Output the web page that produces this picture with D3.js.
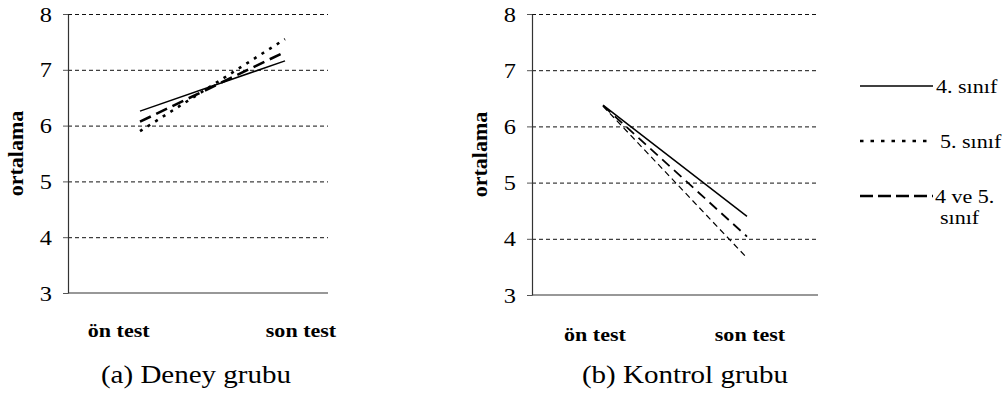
<!DOCTYPE html>
<html>
<head>
<meta charset="utf-8">
<script src="https://cdn.jsdelivr.net/npm/d3@7"></script>
<style>
  body { margin: 0; background: #fff; }
</style>
</head>
<body>
<div id="container"></div>
<script>
const tests = ['ön test', 'son test'];
const groups = ['4. sınıf', '5. sınıf', '4 ve 5. sınıf'];
const yTicks = [3, 4, 5, 6, 7, 8];

const deney4 = [6.26, 7.16];
const deney5 = [5.90, 7.55];
const deney45 = [6.07, 7.32];

const kontrol4 = [6.38, 4.40];
const kontrol5 = [6.36, 3.66];
const kontrol45 = [6.37, 4.04];

const titles = ['(a) Deney grubu', '(b) Kontrol grubu'];

// find a Times-like font that is really installed
const pickFont = (cands) => {
    const ctx = document.createElement('canvas').getContext('2d');
    const w = (f) => { ctx.font = '40px ' + f; return ctx.measureText('ortalama ön test 8').width; };
    const mono = w('monospace');
    for (const f of cands) {
        if (Math.abs(w(`"${f}", monospace`) - mono) > 0.5) return `"${f}"`;
    }
    return 'serif';
};
const serif = pickFont(['Liberation Serif', 'Times New Roman', 'Times', 'DejaVu Serif']);

// original picture is a bit wider than plain Times, so stretch text horizontally
const stretchK = 1.16;
const stretch = (sel) => sel.each(function () {
    const w = this.getComputedTextLength();
    this.setAttribute('textLength', w * stretchK);
    this.setAttribute('lengthAdjust', 'spacingAndGlyphs');
});

const styles = [
    { dash: null, width: 1.5 },
    { dash: '3.5,7', width: 2.6 },
    { dash: '13,5', width: 2.6 }
];

const svg = d3.select('#container')
    .append('svg')
    .attr('width', 1005)
    .attr('height', 408)
    .attr('font-family', serif);

const drawPanel = (p) => {
    const y = d3.scaleLinear().domain([3, 8]).range([p.bottom, 14]);
    const xLine = d3.scalePoint().domain(tests).range(p.lineRange);
    const xLabel = d3.scalePoint().domain(tests).range(p.labelRange);
    const g = svg.append('g');

    // dashed gridlines
    g.append('g')
        .attr('transform', `translate(${p.left}, 0)`)
        .call(d3.axisLeft(y).tickValues(yTicks.slice(1)).tickSize(-(p.right - p.left)).tickFormat(''))
        .call(a => a.select('.domain').remove())
        .call(a => a.selectAll('line').attr('stroke', '#111').attr('stroke-dasharray', '4,3'));

    // y axis with ticks
    const ya = g.append('g')
        .attr('transform', `translate(${p.left}, 0)`)
        .call(d3.axisLeft(y).tickValues(yTicks).tickFormat(d3.format('d'))
            .tickSize(5).tickPadding(11).tickSizeOuter(0))
        .attr('font-family', serif)
        .attr('font-size', 21);
    ya.select('.domain').attr('stroke', '#333').attr('stroke-width', 1.2);
    ya.selectAll('line').attr('stroke', '#555');
    ya.selectAll('text')
        .attr('fill', '#000')
        .attr('dy', '0.34em')
        .call(stretch);

    // bottom axis line
    g.append('line')
        .attr('x1', p.left).attr('x2', p.right)
        .attr('y1', y(3)).attr('y2', y(3))
        .attr('stroke', '#333').attr('stroke-width', 1.2);

    // category labels
    g.selectAll('.cat')
        .data(tests)
        .join('text')
        .attr('class', 'cat')
        .attr('x', d => xLabel(d))
        .attr('y', p.catY)
        .attr('text-anchor', 'middle')
        .attr('font-weight', 'bold')
        .attr('font-size', 19)
        .text(d => d)
        .call(stretch);

    // y label
    g.append('text')
        .attr('transform', `translate(${p.left - 45}, ${(y(8) + y(3)) / 2}) rotate(-90)`)
        .attr('text-anchor', 'middle')
        .attr('font-weight', 'bold')
        .attr('font-size', 22)
        .text('ortalama');

    // series lines
    const line = d3.line().x((d, i) => xLine(tests[i])).y(d => y(d));
    g.selectAll('.series')
        .data(p.series)
        .join('path')
        .attr('class', 'series')
        .attr('d', d => line(d))
        .attr('fill', 'none')
        .attr('stroke', '#000')
        .attr('stroke-width', (d, i) => p.widths[i])
        .attr('stroke-dasharray', (d, i) => p.dashes[i]);

    // panel title
    g.append('text')
        .attr('x', p.titleX)
        .attr('y', 383)
        .attr('text-anchor', 'middle')
        .attr('font-size', 25)
        .text(p.title)
        .call(stretch);
};

drawPanel({
    left: 68, right: 328, bottom: 293,
    lineRange: [140, 285], labelRange: [118.7, 301],
    catY: 337, titleX: 196, title: titles[0],
    series: [deney4, deney5, deney45],
    widths: [1.5, 2.6, 2.6],
    dashes: [null, '3,6', '12,6']
});

drawPanel({
    left: 532, right: 818, bottom: 295,
    lineRange: [603, 747], labelRange: [595, 750],
    catY: 341, titleX: 685, title: titles[1],
    series: [kontrol4, kontrol5, kontrol45],
    widths: [1.5, 1.2, 1.8],
    dashes: [null, '6,4', '10,6']
});

// legend
const legendY = d3.scalePoint().domain(groups).range([86, 196]);
const lg = svg.append('g');
lg.selectAll('line')
    .data(groups)
    .join('line')
    .attr('x1', 860).attr('x2', 933)
    .attr('y1', d => legendY(d)).attr('y2', d => legendY(d))
    .attr('stroke', '#000')
    .attr('stroke-width', (d, i) => styles[i].width)
    .attr('stroke-dasharray', (d, i) => styles[i].dash);

const legendText = [['4. sınıf'], ['5. sınıf'], ['4 ve 5.', 'sınıf']];
const legendTextX = [936, 940, 935];
legendText.forEach((lines, i) => {
    lines.forEach((t, j) => {
        lg.append('text')
            .attr('x', j === 0 ? legendTextX[i] : 940)
            .attr('y', legendY(groups[i]) + 7 + j * 21)
            .attr('font-size', 19)
            .text(t)
            .call(stretch);
    });
});
</script>
</body>
</html>
